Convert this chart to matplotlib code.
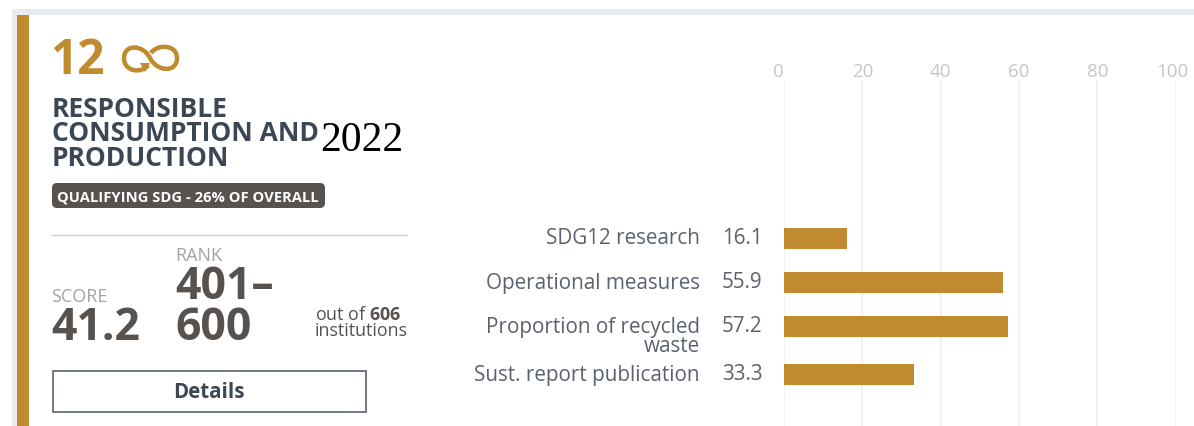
import numpy as np
import matplotlib
matplotlib.use("Agg")
import matplotlib.pyplot as plt
import matplotlib.patches as mpatches
from matplotlib.path import Path
from matplotlib.transforms import ScaledTranslation

plt.rcParams['font.family'] = ['Open Sans', 'DejaVu Sans']
plt.rcParams['mathtext.fontset'] = 'custom'
plt.rcParams['mathtext.bf'] = 'Open Sans:bold'

# data
categories = ["SDG12 research", "Operational measures", "Proportion of recycled\nwaste", "Sust. report publication"]
values = [16.1, 55.9, 57.2, 33.3]
value_labels = ["16.1", "55.9", "57.2", "33.3"]
ticks = [0, 20, 40, 60, 80, 100]

GOLD = "#bf8b2e"
DARK = "#3b4754"
GREY = "#58524f"
SOFT = "#a3a3a8"
LABEL = "#5a6270"

W, H = 1194, 426
fig = plt.figure(figsize=(W / 100, H / 100), dpi=100, facecolor="white")

###############################################################################
# page furniture, drawn in pixel coordinates
bg = fig.add_axes([0, 0, 1, 1])
bg.set_xlim(0, W)
bg.set_ylim(H, 0)
bg.axis("off")

bg.add_patch(mpatches.Rectangle((12, 9), W - 12, 6.3, color="#e8ebee", lw=0))
bg.add_patch(mpatches.Rectangle((12, 9), 5, H - 9, color="#e8ebee", lw=0))
bg.add_patch(mpatches.Rectangle((16.5, 15.3), 12, H - 15, color=GOLD, lw=0))

bg.text(50.5, 74, "12", fontsize=34.5, fontweight="bold", color=GOLD, va="baseline")

# infinity icon
verts = [(148, 65), (142, 74), (124, 72), (124, 58), (124, 44), (143, 44), (150, 58),
         (157, 72), (177, 73), (177, 58), (177, 44), (157, 44), (151, 53)]
codes = [Path.MOVETO] + [Path.CURVE4] * 12
bg.add_patch(mpatches.PathPatch(Path(verts, codes), fc="none", ec=GOLD, lw=3.2))
bg.add_patch(mpatches.Polygon([(140, 63), (150, 63), (145, 72)], color=GOLD, lw=0))

bg.text(51.5, 166, "RESPONSIBLE\nCONSUMPTION AND\nPRODUCTION", fontsize=19, fontweight="bold",
        color=DARK, va="baseline", linespacing=0.89)

bg.text(320, 151, "2022", family="Liberation Serif", fontsize=30, color="black", va="baseline")

bg.add_patch(mpatches.FancyBboxPatch((55, 186), 267, 19, boxstyle="round,pad=3,rounding_size=5",
                                     fc=GREY, ec="none"))
bg.text(57, 201, "QUALIFYING SDG - 26% OF OVERALL", fontsize=10.6, fontweight="bold",
        color="white", va="baseline")

bg.plot([52, 407], [235, 235], color="#cfcccc", lw=1.0)

bg.text(175.5, 261, "RANK", fontsize=13, color=SOFT, va="baseline")
bg.text(51, 302, "SCORE", fontsize=13, color=SOFT, va="baseline")
bg.text(51, 340, "41.2", fontsize=32, fontweight="bold", color=GREY, va="baseline")
bg.text(175, 340, "401–\n600", fontsize=32, fontweight="bold", color=GREY, va="baseline", linespacing=0.89)

bg.text(315, 336, "out of $\\mathbf{606}$\ninstitutions", fontsize=12.9, color=GREY,
        va="baseline", linespacing=0.855)

bg.add_patch(mpatches.Rectangle((52.5, 371), 313, 41, fc="white", ec="#666e7c", lw=1.3))
bg.text(208.5, 393, "Details", fontsize=14.8, fontweight="bold", color=DARK, ha="center", va="center")

###############################################################################
# bar chart: x runs 0-100 between the first and last gridline
ax = fig.add_axes([784 / W, 0, (1175.6 - 784) / W, 1 - 80 / H], facecolor="none")
ax.set_xlim(0, 100)
ax.set_ylim(H, 80)

# a wrapped label pushes the next row down a bit
lines = [c.count("\n") + 1 for c in categories]
rows = 238 + np.concatenate([[0], np.cumsum([44 + 4 * (n - 1) for n in lines[:-1]])])

ax.barh(rows, values, height=21, color=GOLD, zorder=3)

ax.set_xticks(ticks)
ax.xaxis.tick_top()
ax.tick_params(axis="x", length=0, pad=-1, labelsize=13.5, labelcolor="#c9c5c5")
ax.set_yticks([])
ax.grid(axis="x", color="#eeeeee", lw=1.1, zorder=0)
for s in ax.spines.values():
    s.set_visible(False)

# first and last tick labels sit a little left of their gridlines
xlabels = ax.get_xticklabels()
for lab, px in ((xlabels[0], -6), (xlabels[-1], -3.5)):
    lab.set_transform(lab.get_transform() + ScaledTranslation(px / 100, 0, fig.dpi_scale_trans))

for y, cat, val in zip(rows, categories, value_labels):
    first, *rest = cat.split("\n")
    bg.text(700, y + 1, first, fontsize=14.9, color=LABEL, ha="right", va="center")
    for i, extra in enumerate(rest):
        bg.text(700, y + 1 + 19 * (i + 1), extra, fontsize=14.9, color=LABEL, ha="right", va="center")
    bg.text(722, y + 1, val, fontsize=14.9, color=LABEL, ha="left", va="center")

fig.savefig("out.png", dpi=100)
